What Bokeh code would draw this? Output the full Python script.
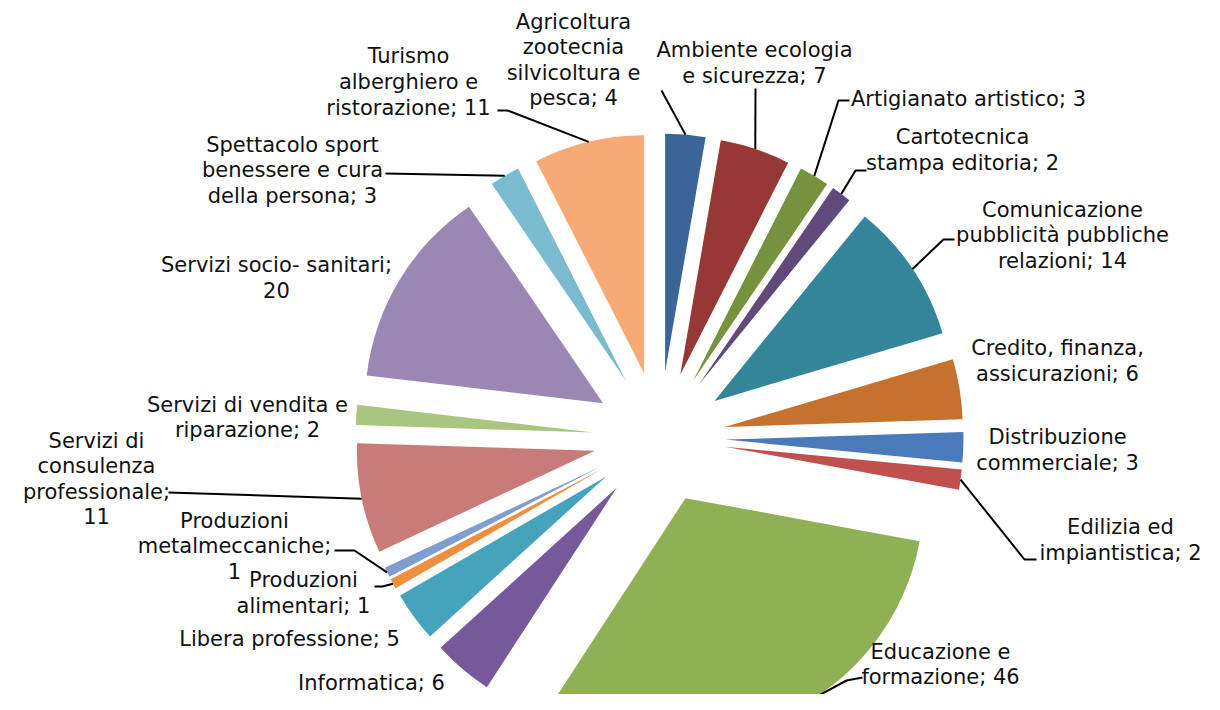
import math
from bokeh.plotting import figure
from bokeh.models import Range1d, ColumnDataSource
from bokeh.core.properties import value
from bokeh.embed import file_html
from bokeh.resources import INLINE

# ---------------- data ----------------
categories = [
    "Agricoltura zootecnia silvicoltura e pesca",
    "Ambiente ecologia e sicurezza",
    "Artigianato artistico",
    "Cartotecnica stampa editoria",
    "Comunicazione pubblicità pubbliche relazioni",
    "Credito, finanza, assicurazioni",
    "Distribuzione commerciale",
    "Edilizia ed impiantistica",
    "Educazione e formazione",
    "Informatica",
    "Libera professione",
    "Produzioni alimentari",
    "Produzioni metalmeccaniche",
    "Servizi di consulenza professionale",
    "Servizi di vendita e riparazione",
    "Servizi socio- sanitari",
    "Spettacolo sport benessere e cura della persona",
    "Turismo alberghiero e ristorazione",
]
counts = [4, 7, 3, 2, 14, 6, 3, 2, 46, 6, 5, 1, 1, 11, 2, 20, 3, 11]

# label text as wrapped in the chart (name; value)
label_lines = [
    ["Agricoltura", "zootecnia", "silvicoltura e", "pesca; {v}"],
    ["Ambiente ecologia", "e sicurezza; {v}"],
    ["Artigianato artistico; {v}"],
    ["Cartotecnica", "stampa editoria; {v}"],
    ["Comunicazione", "pubblicità pubbliche", "relazioni; {v}"],
    ["Credito, finanza,", "assicurazioni; {v}"],
    ["Distribuzione", "commerciale; {v}"],
    ["Edilizia ed", "impiantistica; {v}"],
    ["Educazione e", "formazione; {v}"],
    ["Informatica; {v}"],
    ["Libera professione; {v}"],
    ["Produzioni", "alimentari; {v}"],
    ["Produzioni", "metalmeccaniche;", "{v}"],
    ["Servizi di", "consulenza", "professionale;", "{v}"],
    ["Servizi di vendita e", "riparazione; {v}"],
    ["Servizi socio- sanitari;", "{v}"],
    ["Spettacolo sport", "benessere e cura", "della persona; {v}"],
    ["Turismo", "alberghiero e", "ristorazione; {v}"],
]

# ---------------- styles / layout ----------------
colors = [
    "#3B6597", "#953836", "#76923C", "#60497B", "#33869A", "#C5722F",
    "#4A7AB9", "#C0504D", "#8FB054", "#76599A", "#46A3BC", "#EE8F3E",
    "#7F9DD1", "#C97B79", "#A9C680", "#9B87B4", "#7BBBD0", "#F7A976",
]

CX, CY = 659.0, 437.0      # pie centre (screen px)
R = 238.0                  # slice radius
EXPLODE = 66.0             # explosion distance

# label block centres (screen px)
label_pos = [
    (573, 59.5), (754, 62.5), (968, 98), (962, 149.5), (1062, 235),
    (1057, 360.5), (1057, 449.5), (1120, 539.5), (940, 664), (371, 682),
    (289, 638), (303, 592.5), (234, 546), (96, 478.5), (247, 417),
    (276, 277.5), (292, 170), (408, 81.5),
]
# leader lines: label-side points (screen px); the slice end is computed
leaders = {
    0: [(661, 90)],
    1: [(755, 88)],
    2: [(849, 100), (838, 100)],
    3: [(866, 170), (855, 170)],
    4: [(954, 239), (943, 239)],
    7: [(1036, 559), (1024, 559)],
    8: [(862, 677), (846, 680)],
    11: [(374, 586), (382, 586)],
    12: [(334, 550), (354, 550)],
    13: [(168, 492)],
    16: [(385, 173)],
    17: [(497, 110), (507, 110)],
}

# ---------------- geometry from data ----------------
total = float(sum(counts))
starts, ends, mids = [], [], []
acc = 0.0
for c in counts:
    a1 = acc / total * 360.0
    acc += c
    a2 = acc / total * 360.0
    starts.append(a1)
    ends.append(a2)
    mids.append((a1 + a2) / 2.0)

# clock angles (clockwise from 12 o'clock) -> bokeh math angles
wx, wy, sa, ea = [], [], [], []
for a1, a2, m in zip(starts, ends, mids):
    rad = math.radians(m)
    wx.append(CX + EXPLODE * math.sin(rad))
    wy.append(-CY + EXPLODE * math.cos(rad))
    sa.append(90.0 - a1)
    ea.append(90.0 - a2)

src = ColumnDataSource(dict(x=wx, y=wy, sa=sa, ea=ea, color=colors, cat=categories))

p = figure(width=1204, height=694, x_range=Range1d(0, 1204), y_range=Range1d(-694, 0),
           output_backend="svg", toolbar_location=None, min_border=0)
p.axis.visible = False
p.grid.visible = False
p.outline_line_color = None
p.background_fill_color = "#FFFFFF"
p.border_fill_color = "#FFFFFF"

p.wedge(x="x", y="y", radius=R, start_angle="sa", end_angle="ea",
        start_angle_units="deg", end_angle_units="deg", direction="clock",
        fill_color="color", line_color=None, source=src)

# leader lines
lx, ly = [], []
for i, pts in leaders.items():
    rad = math.radians(mids[i])
    ex = CX + (EXPLODE + R) * math.sin(rad)
    ey = CY - (EXPLODE + R) * math.cos(rad)
    xs = [q[0] for q in pts] + [ex]
    ys = [-q[1] for q in pts] + [-ey]
    lx.append(xs)
    ly.append(ys)
p.multi_line(xs=lx, ys=ly, line_color="#000000", line_width=2)

# labels
texts = ["\n".join(l.format(v=v) for l in lines) for lines, v in zip(label_lines, counts)]
tx = [q[0] for q in label_pos]
ty = [-q[1] for q in label_pos]
p.text(x=tx, y=ty, text=texts, text_align="center", text_baseline="middle",
       text_font=value("DejaVu Sans"), text_font_size="21px", text_color="#111111",
       text_line_height=1.065)

open("out.html", "w").write(file_html(p, INLINE))
